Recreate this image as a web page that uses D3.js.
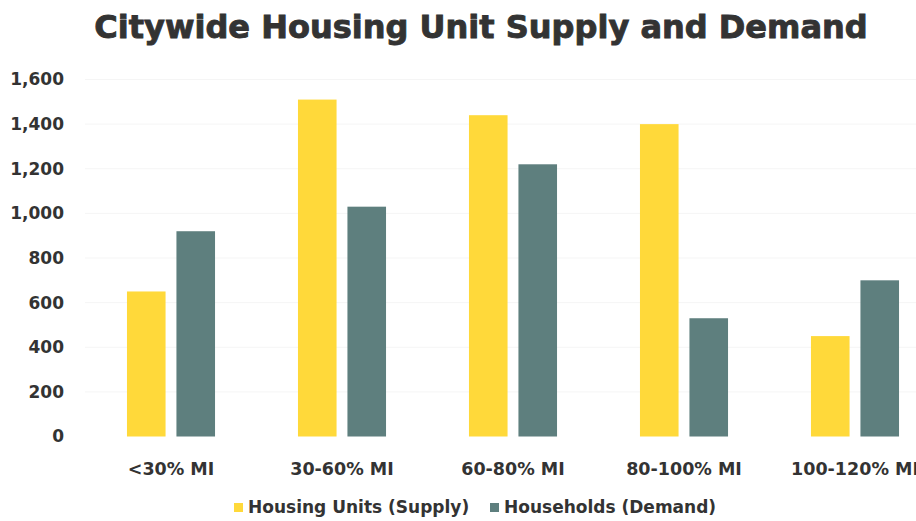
<!DOCTYPE html>
<html>
<head>
<meta charset="utf-8">
<script src="https://cdn.jsdelivr.net/npm/d3@7"></script>
<style>
  html, body { margin: 0; padding: 0; background: #fff; }
  svg { display: block; }
  text { font-family: "DejaVu Sans", sans-serif; font-weight: 700; fill: #333; }
</style>
</head>
<body>
<svg id="chart" width="916" height="521"></svg>
<script>
const categories = ["<30% MI", "30-60% MI", "60-80% MI", "80-100% MI", "100-120% MI"];
const seriesNames = ["Housing Units (Supply)", "Households (Demand)"];
const supply = [650, 1510, 1440, 1400, 450];
const demand = [920, 1030, 1220, 530, 700];
const yTicks = [0, 200, 400, 600, 800, 1000, 1200, 1400, 1600];
const colors = ["#FFD93A", "#5E7F7E"];
const title = "Citywide Housing Unit Supply and Demand";

const svg = d3.select("#chart");

const y = d3.scaleLinear().domain([0, 1600]).range([436.5, 79.5]);
const x0 = d3.scaleBand().domain(categories).range([85.5, 940.5])
  .paddingInner(0.485).paddingOuter(0.2425);
const x1 = d3.scaleBand().domain(seriesNames).range([0, x0.bandwidth()]).paddingInner(0.22);
const color = d3.scaleOrdinal().domain(seriesNames).range(colors);

// faint gridlines
svg.append("g").selectAll("line").data(yTicks.slice(1)).join("line")
  .attr("x1", 85).attr("x2", 916)
  .attr("y1", d => y(d)).attr("y2", d => y(d))
  .attr("stroke", "#f5f5f5").attr("stroke-width", 1);

// title
svg.append("text").attr("x", 481).attr("y", 38)
  .attr("text-anchor", "middle")
  .style("font-size", "32px")
  .attr("stroke", "#333").attr("stroke-width", 0.9)
  .text(title);

// y axis
const yAxis = svg.append("g").attr("transform", "translate(72,0)")
  .call(d3.axisLeft(y).tickValues(yTicks).tickSize(0).tickPadding(8).tickFormat(d3.format(",")));
yAxis.select(".domain").remove();
yAxis.selectAll("text").style("font-size", "17px").style("font-weight", 700)
  .style("font-family", "'DejaVu Sans', sans-serif").attr("fill", "#333");

// bars
const rows = categories.map((c, i) => ({ cat: c, vals: [supply[i], demand[i]] }));
const groups = svg.append("g").selectAll("g").data(rows).join("g")
  .attr("transform", d => `translate(${x0(d.cat)},0)`);
groups.selectAll("rect").data(d => d.vals.map((v, j) => ({ key: seriesNames[j], v })))
  .join("rect")
  .attr("x", d => x1(d.key))
  .attr("width", x1.bandwidth())
  .attr("y", d => y(d.v))
  .attr("height", d => y(0) - y(d.v))
  .attr("fill", d => color(d.key));

// x axis labels
const xAxis = svg.append("g").attr("transform", "translate(0,436.5)")
  .call(d3.axisBottom(x0).tickSize(0).tickPadding(26));
xAxis.select(".domain").remove();
xAxis.selectAll("text").style("font-size", "17.5px").style("font-weight", 700)
  .style("font-family", "'DejaVu Sans', sans-serif").attr("fill", "#333");

// legend
const legendX = [234, 490];
const legend = svg.append("g").selectAll("g").data(seriesNames).join("g")
  .attr("transform", (d, i) => `translate(${legendX[i]},0)`);
legend.append("rect").attr("x", 0).attr("y", 503).attr("width", 9).attr("height", 9)
  .attr("fill", d => color(d));
legend.append("text").attr("x", 14).attr("y", 513)
  .style("font-size", "17px")
  .text(d => d);
</script>
</body>
</html>
